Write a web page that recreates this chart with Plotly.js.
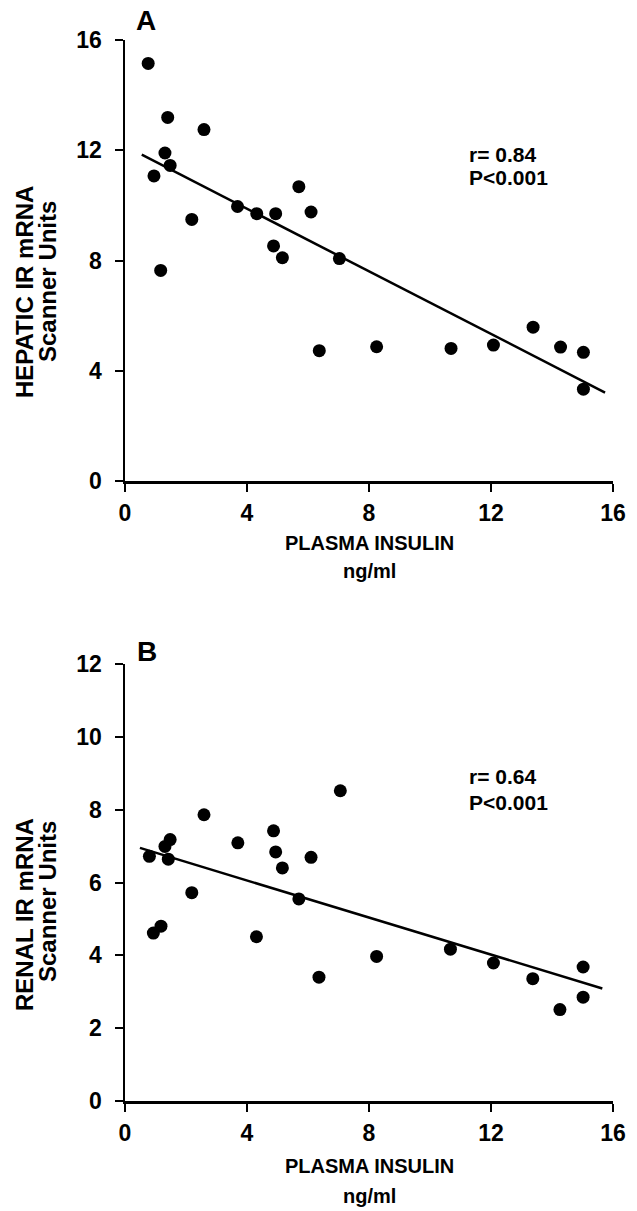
<!DOCTYPE html>
<html>
<head>
<meta charset="utf-8">
<script src="https://cdn.plot.ly/plotly-3.0.1.min.js"></script>
<style>html,body{margin:0;padding:0;background:#fff;}#chart{width:637px;height:1211px;}</style>
</head>
<body>
<div id="chart"></div>
<script>
// Panel A: hepatic IR mRNA vs plasma insulin
const insulinA = [0.76, 1.40, 2.59, 1.31, 1.48, 0.95, 5.70, 3.69, 4.32, 4.94, 6.10, 2.19, 4.87, 5.16, 7.03, 1.17, 6.37, 8.25, 10.69, 12.08, 13.38, 14.28, 15.03, 15.03];
const hepatic  = [15.15, 13.19, 12.75, 11.90, 11.45, 11.07, 10.68, 9.96, 9.70, 9.70, 9.76, 9.49, 8.53, 8.10, 8.07, 7.64, 4.73, 4.87, 4.81, 4.93, 5.58, 4.86, 4.67, 3.33];
const fitAx = [0.55, 15.74];
const fitAy = [11.84, 3.21];

// Panel B: renal IR mRNA vs plasma insulin
const insulinB = [0.80, 1.31, 1.48, 1.42, 2.59, 3.70, 4.87, 4.94, 5.16, 6.10, 7.06, 2.19, 0.93, 1.18, 5.70, 4.31, 6.36, 8.25, 10.67, 12.08, 13.37, 14.26, 15.02, 15.02];
const renal    = [6.72, 6.99, 7.18, 6.64, 7.86, 7.09, 7.42, 6.84, 6.40, 6.69, 8.52, 5.72, 4.61, 4.80, 5.55, 4.51, 3.40, 3.97, 4.17, 3.79, 3.36, 2.51, 3.68, 2.85];
const fitBx = [0.49, 15.65];
const fitBy = [6.95, 3.09];

const xTicks = [0, 4, 8, 12, 16];
const yTicksA = [0, 4, 8, 12, 16];
const yTicksB = [0, 2, 4, 6, 8, 10, 12];

const W = 637, H = 1211;
const px = v => v / W;
const py = v => (H - v) / H;

const FONT = 'Liberation Sans, Arial, Helvetica, sans-serif';
const bold = (size) => ({family: FONT, size: size, color: '#000', weight: 'bold'});
const b = s => '<b>' + s + '</b>';

const marker = {color: '#000', size: 13, symbol: 'circle'};
const fitLine = {color: '#000', width: 2.5};

const traces = [
  {x: insulinA, y: hepatic, mode: 'markers', type: 'scatter', marker: marker, xaxis: 'x', yaxis: 'y', hoverinfo: 'x+y'},
  {x: fitAx, y: fitAy, mode: 'lines', type: 'scatter', line: fitLine, xaxis: 'x', yaxis: 'y', hoverinfo: 'skip'},
  {x: insulinB, y: renal, mode: 'markers', type: 'scatter', marker: marker, xaxis: 'x2', yaxis: 'y2', hoverinfo: 'x+y'},
  {x: fitBx, y: fitBy, mode: 'lines', type: 'scatter', line: fitLine, xaxis: 'x2', yaxis: 'y2', hoverinfo: 'skip'}
];

const axisCommon = {
  showline: true, linecolor: '#000', linewidth: 2.5,
  ticks: 'outside', ticklen: 8, tickwidth: 2, tickcolor: '#000',
  showgrid: false, zeroline: false, automargin: false,
  tickfont: bold(23), fixedrange: true, tickmode: 'array'
};

const layout = {
  width: W, height: H,
  margin: {l: 0, r: 0, t: 0, b: 0},
  paper_bgcolor: '#fff', plot_bgcolor: '#fff',
  showlegend: false,
  xaxis: Object.assign({}, axisCommon, {domain: [px(125), px(613)], range: [0, 16], tickvals: xTicks, ticktext: xTicks.map(v => b(v)), anchor: 'y', ticklabelstandoff: 2}),
  yaxis: Object.assign({}, axisCommon, {domain: [py(481), py(40)], range: [0, 16], tickvals: yTicksA, ticktext: yTicksA.map(v => b(v)), anchor: 'x', ticklabelstandoff: 8}),
  xaxis2: Object.assign({}, axisCommon, {domain: [px(125), px(613)], range: [0, 16], tickvals: xTicks, ticktext: xTicks.map(v => b(v)), anchor: 'y2', ticklabelstandoff: 2}),
  yaxis2: Object.assign({}, axisCommon, {domain: [py(1101), py(664)], range: [0, 12], tickvals: yTicksB, ticktext: yTicksB.map(v => b(v)), anchor: 'x2', ticklabelstandoff: 8}),
  annotations: [
    {text: b('A'), xref: 'paper', yref: 'paper', x: px(146), y: py(20), showarrow: false, font: bold(28), xanchor: 'center', yanchor: 'middle'},
    {text: b('B'), xref: 'paper', yref: 'paper', x: px(147), y: py(651), showarrow: false, font: bold(28), xanchor: 'center', yanchor: 'middle'},
    {text: b('r= 0.84'), xref: 'x', yref: 'y', x: 11.2, y: 11.85, showarrow: false, font: bold(21), xanchor: 'left', yanchor: 'middle'},
    {text: b('P<0.001'), xref: 'x', yref: 'y', x: 11.2, y: 11.0, showarrow: false, font: bold(21), xanchor: 'left', yanchor: 'middle'},
    {text: b('r= 0.64'), xref: 'x2', yref: 'y2', x: 11.2, y: 8.9, showarrow: false, font: bold(21), xanchor: 'left', yanchor: 'middle'},
    {text: b('P<0.001'), xref: 'x2', yref: 'y2', x: 11.2, y: 8.2, showarrow: false, font: bold(21), xanchor: 'left', yanchor: 'middle'},
    {text: b('PLASMA INSULIN'), xref: 'paper', yref: 'paper', x: px(369), y: py(543), showarrow: false, font: bold(20), xanchor: 'center', yanchor: 'middle'},
    {text: b('ng/ml'), xref: 'paper', yref: 'paper', x: px(369), y: py(571), showarrow: false, font: bold(20), xanchor: 'center', yanchor: 'middle'},
    {text: b('PLASMA INSULIN'), xref: 'paper', yref: 'paper', x: px(369), y: py(1166), showarrow: false, font: bold(20), xanchor: 'center', yanchor: 'middle'},
    {text: b('ng/ml'), xref: 'paper', yref: 'paper', x: px(369), y: py(1196), showarrow: false, font: bold(20), xanchor: 'center', yanchor: 'middle'},
    {text: b('HEPATIC IR mRNA'), xref: 'paper', yref: 'paper', x: px(24), y: py(292), showarrow: false, font: bold(24), textangle: -90, xanchor: 'center', yanchor: 'middle'},
    {text: b('Scanner Units'), xref: 'paper', yref: 'paper', x: px(47), y: py(282), showarrow: false, font: bold(24), textangle: -90, xanchor: 'center', yanchor: 'middle'},
    {text: b('RENAL IR mRNA'), xref: 'paper', yref: 'paper', x: px(24), y: py(915), showarrow: false, font: bold(24), textangle: -90, xanchor: 'center', yanchor: 'middle'},
    {text: b('Scanner Units'), xref: 'paper', yref: 'paper', x: px(47), y: py(902), showarrow: false, font: bold(24), textangle: -90, xanchor: 'center', yanchor: 'middle'}
  ]
};

Plotly.newPlot('chart', traces, layout, {displayModeBar: false, staticPlot: true});
</script>
</body>
</html>
